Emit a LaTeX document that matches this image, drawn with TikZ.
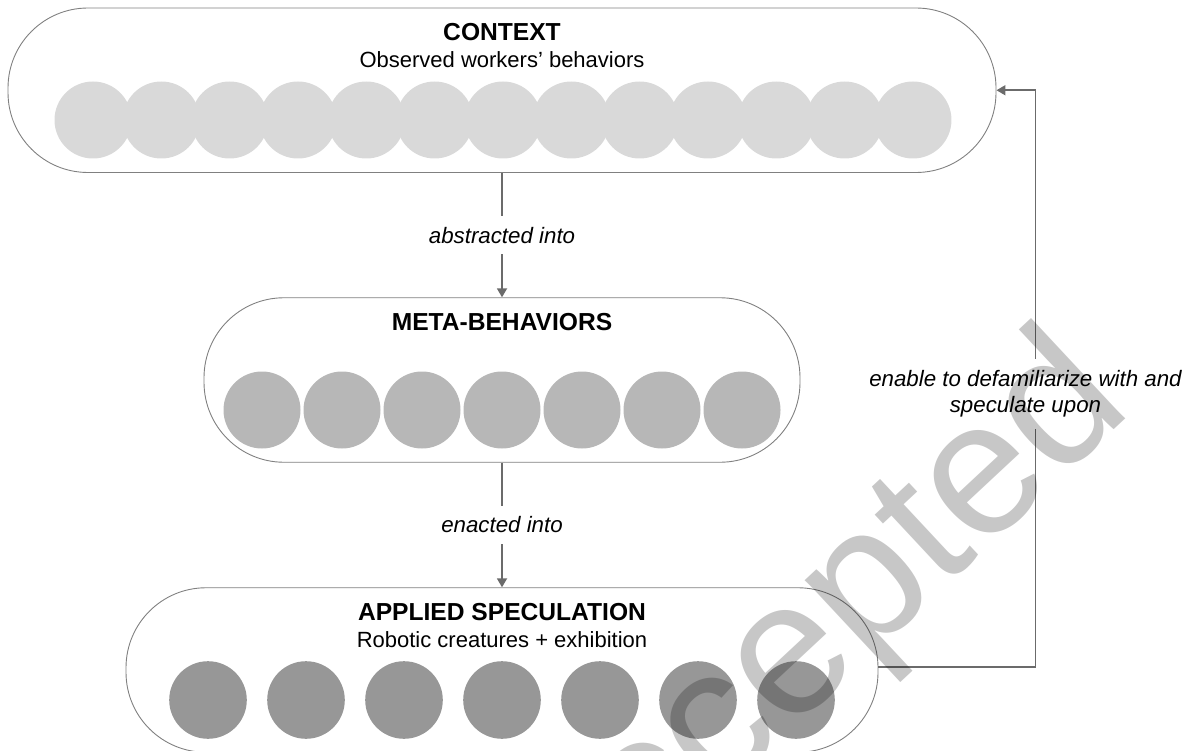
\documentclass[tikz,border=0pt]{standalone}
\usepackage{fontspec}
\setmainfont{Liberation Sans}
\usetikzlibrary{positioning, arrows.meta}

\definecolor{edgegray}{HTML}{6B6B6B}
\definecolor{boxgray}{HTML}{808080}
\definecolor{dotlight}{HTML}{D9D9D9}
\definecolor{dotmid}{HTML}{B7B7B7}
\definecolor{dotdark}{HTML}{979797}

\begin{document}
\begin{tikzpicture}[x=1pt, y=-1pt,
    stagebox/.style={draw=boxgray, line width=0.9pt, rounded corners=80pt, minimum height=164.5pt, inner sep=0pt},
    stagetitle/.style={font=\fontsize{24.6}{29}\selectfont\bfseries, anchor=base, inner sep=0pt},
    stagesub/.style={font=\fontsize{22}{26}\selectfont, anchor=base, inner sep=0pt},
    flow/.style={draw=edgegray, line width=1.8pt, -{Triangle[length=9pt, width=10pt]}},
    flowlabel/.style={font=\fontsize{22.3}{26.4}\selectfont\itshape, fill=white, inner xsep=4pt, inner ysep=11pt, align=center},
    stamp/.style={font=\fontsize{190}{190}\selectfont, text=black, text opacity=0.22, inner sep=0pt}
  ]
        \useasboundingbox (0,0) rectangle (1190,751);

        % stages
        \node (context) [stagebox, minimum width=988pt] at (502, 90.25) {};
        \node (meta) [stagebox, minimum width=596pt] at (502, 380) {};
        \node (applied) [stagebox, minimum width=752pt] at (502, 670) {};

        \node (contexttitle) [stagetitle] at ([yshift=-32.7pt]context.north) {CONTEXT};
        \node (contextsub) [stagesub] at ([yshift=-27.6pt]contexttitle.base) {Observed workers’ behaviors};
        \node (metatitle) [stagetitle] at ([yshift=-32.7pt]meta.north) {META-BEHAVIORS};
        \node (appliedtitle) [stagetitle] at ([yshift=-33pt]applied.north) {APPLIED SPECULATION};
        \node (appliedsub) [stagesub] at ([yshift=-27.3pt]appliedtitle.base) {Robotic creatures + exhibition};

        % behaviours
        \foreach \i in {0,...,12}
            \fill[dotlight] (93+68.33*\i, 120) circle[radius=38.5pt];
        \foreach \i in {0,...,6}
            \fill[dotmid] (262+80*\i, 410) circle[radius=38.5pt];
        \foreach \i in {0,...,6}
            \fill[dotdark] (208+98*\i, 700) circle[radius=38.8pt];

        \draw[flow] (context) -- node[flowlabel] (abstracted) {abstracted into} (meta);
        \draw[flow] (meta) -- node[flowlabel] (enacted) {enacted into} (applied);
        \draw[flow] ([yshift=3pt]applied.east) -- ++(157,0) coordinate (loopturn)
            -- node[flowlabel, pos=0.4735, xshift=-10pt] (enable) {enable to defamiliarize with and\\speculate upon}
            (loopturn |- context.east) -- (context.east);

        \node (stamp) [stamp, rotate=43, anchor=base east] at (1135, 410) {accepted};
\end{tikzpicture}
\end{document}
